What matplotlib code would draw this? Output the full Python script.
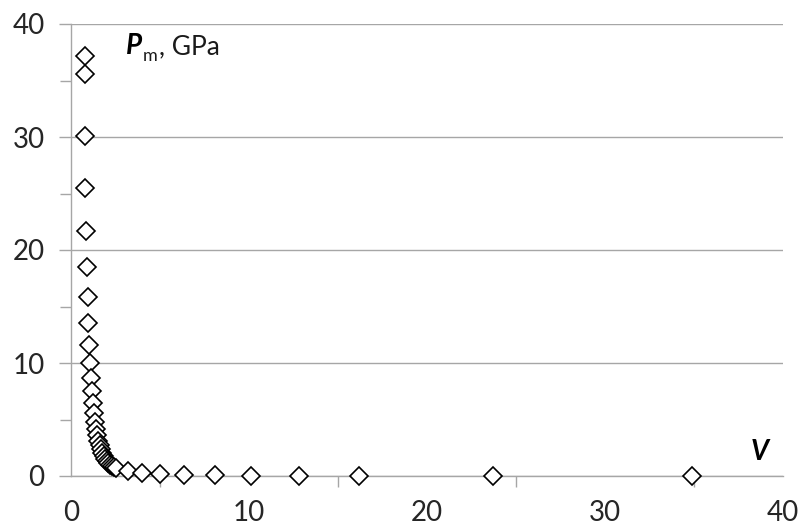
import numpy as np
import matplotlib
matplotlib.use("Agg")
import matplotlib.pyplot as plt
from matplotlib.ticker import MultipleLocator

# specific volume V and pressure P_m
v_vals = [0.76, 0.77, 0.79, 0.81, 0.84, 0.88, 0.93, 0.98, 1.03, 1.08,
          1.13, 1.18, 1.24, 1.29, 1.35, 1.41, 1.47, 1.54, 1.61, 1.68,
          1.76, 1.84, 1.92, 2.01, 2.10, 2.19, 2.29, 2.40, 2.55, 3.2,
          4.0, 5.0, 6.35, 8.1, 10.1, 12.8, 16.2, 23.7, 34.9]
p_vals = [37.2, 35.6, 30.1, 25.5, 21.7, 18.5, 15.8, 13.5, 11.6, 10.0,
          8.7, 7.5, 6.5, 5.6, 4.8, 4.2, 3.6, 3.1, 2.7, 2.35,
          2.0, 1.75, 1.5, 1.3, 1.12, 0.97, 0.86, 0.76, 0.68, 0.45,
          0.3, 0.18, 0.1, 0.06, 0.035, 0.02, 0.01, 0.005, 0.002]

x_labels = ["0", "10", "20", "30", "40"]
y_labels = ["0", "10", "20", "30", "40"]

plt.rcParams['font.family'] = ['Lato', 'DejaVu Sans']

fig = plt.figure(figsize=(8.01, 5.26), dpi=100)
ax = fig.add_axes([71/801, 50/526, 712/801, 452/526])

ax.plot(v_vals, p_vals, linestyle='none', marker='D', markersize=9,
        markerfacecolor='white', markeredgecolor='black', markeredgewidth=1.2,
        zorder=3, clip_on=False)

ax.set_xlim(0, 40)
ax.set_ylim(0, 40)

# labels every 10, tick marks every 5
ax.xaxis.set_minor_locator(MultipleLocator(5))
ax.yaxis.set_minor_locator(MultipleLocator(5))
ax.set_xticks([0, 10, 20, 30, 40], x_labels)
ax.set_yticks([0, 10, 20, 30, 40], y_labels)

ax.grid(axis='y', which='major', color='#a6a6a6', linewidth=1.0)
for s in ['top', 'right']:
    ax.spines[s].set_visible(False)
for s in ['left', 'bottom']:
    ax.spines[s].set_color('#a6a6a6')
    ax.spines[s].set_linewidth(1.0)

ax.tick_params(axis='both', which='both', color='#a6a6a6', direction='out',
               width=1.0, labelsize=20, labelcolor='#262626')
ax.tick_params(axis='both', which='minor', length=8)
ax.tick_params(axis='y', which='major', length=9, pad=10)
ax.tick_params(axis='x', which='major', length=0, pad=17)

fig.text(126/801, 1 - 46/526, 'P', fontsize=20, fontweight='bold', style='italic',
         ha='left', va='center')
fig.text(143/801, 1 - 56/526, 'm', fontsize=13, ha='left', va='center', color='#1a1a1a')
fig.text(159/801, 1 - 47/526, ', GPa', fontsize=19, ha='left', va='center', color='#1a1a1a')
fig.text(760/801, 1 - 452/526, 'V', fontsize=20, fontweight='bold', style='italic',
         ha='center', va='center')

fig.savefig('out.png', dpi=100, facecolor='white')
